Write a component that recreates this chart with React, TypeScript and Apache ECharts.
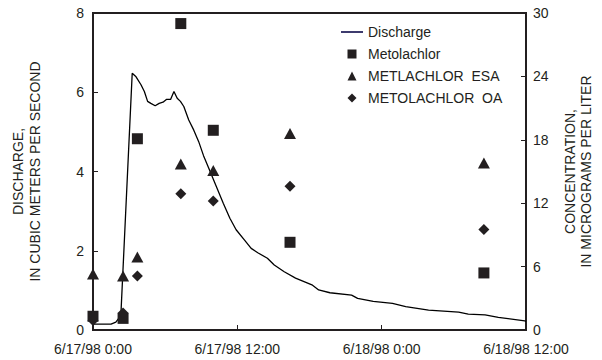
import React, { useEffect, useRef } from "react";
import * as echarts from "echarts";

// Hours after 6/17/98 0:00
const dischargeHours = [0, 1.5, 1.9, 2.2, 2.32, 3.26, 3.58, 3.99, 4.27, 4.54, 4.81, 5.17, 5.5, 5.82, 6.1, 6.45, 6.73, 7.0, 7.27, 7.55, 7.96, 8.37, 8.78, 9.19, 9.6, 10.15, 10.83, 11.38, 11.9, 12.6, 13.15, 13.7, 14.5, 15.07, 15.9, 16.84, 18.2, 18.76, 19.7, 21.5, 22.0, 23.3, 24.9, 26.0, 27.9, 30.4, 31.2, 32.6, 33.7, 35.9, 36];
const dischargeValues = [0.15, 0.15, 0.2, 0.32, 0.4, 6.48, 6.39, 6.19, 6.02, 5.77, 5.72, 5.66, 5.72, 5.75, 5.82, 5.82, 6.02, 5.85, 5.77, 5.64, 5.3, 5.05, 4.76, 4.4, 4.1, 3.7, 3.2, 2.82, 2.53, 2.27, 2.06, 1.95, 1.81, 1.64, 1.47, 1.31, 1.14, 1.01, 0.94, 0.88, 0.8, 0.72, 0.67, 0.59, 0.5, 0.45, 0.4, 0.38, 0.32, 0.23, 0.22];

const sampleHours = [0, 2.5, 3.69, 7.3, 10.0, 16.38, 32.5];
const metolachlor = [1.3, 1.1, 18.1, 29.0, 18.9, 8.3, 5.4];
const metolachlorEsa = [5.3, 5.1, 6.9, 15.7, 15.1, 18.6, 15.8];
const metolachlorOa = [0.9, 1.6, 5.1, 12.9, 12.2, 13.6, 9.5];

const xTickLabels = ["6/17/98 0:00", "6/17/98 12:00", "6/18/98 0:00", "6/18/98 12:00"];

const FONT = "Liberation Sans, Arial, sans-serif";
const INK = "#231f20";

export default function App() {
  const ref = useRef<HTMLDivElement>(null);
  useEffect(() => {
    if (!ref.current) return;
    const chart = echarts.init(ref.current, undefined, { renderer: "svg" });
    const pair = (xs: number[], ys: number[]) => xs.map((x, i) => [x, ys[i]]);
    chart.setOption({
      animation: false,
      backgroundColor: "#ffffff",
      textStyle: { fontFamily: FONT },
      grid: {
        left: 93, right: 70, top: 13, bottom: 30,
        show: true, borderColor: INK, borderWidth: 2,
      },
      legend: {
        orient: "vertical",
        left: 336, top: 20,
        itemWidth: 22, itemHeight: 9, itemGap: 8,
        textStyle: { fontFamily: FONT, fontSize: 14, color: INK },
        data: [
          { name: "Discharge", icon: "path://M0,0H22V2H0Z", itemStyle: { color: "#3d3b6e" } },
          { name: "Metolachlor", icon: "path://M0,0H10V10H0Z" },
          { name: "METLACHLOR  ESA", icon: "path://M5,0L10,10H0Z" },
          { name: "METOLACHLOR  OA", icon: "path://M5,0L10,5L5,10L0,5Z" },
        ],
      },
      xAxis: {
        type: "value", min: 0, max: 36, interval: 12,
        axisLine: { lineStyle: { color: INK, width: 2 } },
        axisTick: { inside: true, length: 5, lineStyle: { color: INK, width: 1 } },
        splitLine: { show: false },
        axisLabel: {
          margin: 12, fontSize: 14, color: INK, fontFamily: FONT,
          alignMinLabel: "center", alignMaxLabel: "center",
          formatter: (v: number) => xTickLabels[Math.round(v / 12)] ?? "",
        },
      },
      yAxis: [
        {
          type: "value", min: 0, max: 8, interval: 2, position: "left",
          name: "DISCHARGE,\nIN CUBIC METERS PER SECOND",
          nameLocation: "middle", nameRotate: 90, nameGap: 50,
          nameTextStyle: { fontSize: 14, color: INK, fontFamily: FONT, lineHeight: 17 },
          axisLine: { show: true, lineStyle: { color: INK, width: 2 } },
          axisTick: { show: true, inside: true, length: 5, lineStyle: { color: INK } },
          splitLine: { show: false },
          axisLabel: { margin: 9, fontSize: 14, color: INK, fontFamily: FONT },
        },
        {
          type: "value", min: 0, max: 30, interval: 6, position: "right",
          name: "CONCENTRATION,\nIN MICROGRAMS PER LITER",
          nameLocation: "middle", nameRotate: 90, nameGap: 36,
          nameTextStyle: { fontSize: 14, color: INK, fontFamily: FONT, lineHeight: 16 },
          axisLine: { show: true, lineStyle: { color: INK, width: 2 } },
          axisTick: { show: true, inside: true, length: 5, lineStyle: { color: INK } },
          splitLine: { show: false },
          axisLabel: { margin: 7, fontSize: 14, color: INK, fontFamily: FONT },
        },
      ],
      series: [
        {
          name: "Discharge", type: "line", yAxisIndex: 0,
          data: pair(dischargeHours, dischargeValues),
          symbol: "none", showSymbol: false, lineStyle: { color: "#000000", width: 1.3 },
          itemStyle: { color: "#3d3b6e" }, z: 2,
        },
        {
          name: "Metolachlor", type: "scatter", yAxisIndex: 1,
          data: pair(sampleHours, metolachlor),
          symbol: "rect", symbolSize: 11, itemStyle: { color: INK, opacity: 1 }, z: 3,
        },
        {
          name: "METLACHLOR  ESA", type: "scatter", yAxisIndex: 1,
          data: pair(sampleHours, metolachlorEsa),
          symbol: "triangle", symbolSize: [12, 11], itemStyle: { color: INK, opacity: 1 }, z: 3,
        },
        {
          name: "METOLACHLOR  OA", type: "scatter", yAxisIndex: 1,
          data: pair(sampleHours, metolachlorOa),
          symbol: "diamond", symbolSize: 11, itemStyle: { color: INK, opacity: 1 }, z: 3,
        },
      ],
    });
    return () => chart.dispose();
  }, []);
  return <div ref={ref} style={{ width: 602, height: 360, position: "absolute", left: 0, top: 0 }} />;
}
